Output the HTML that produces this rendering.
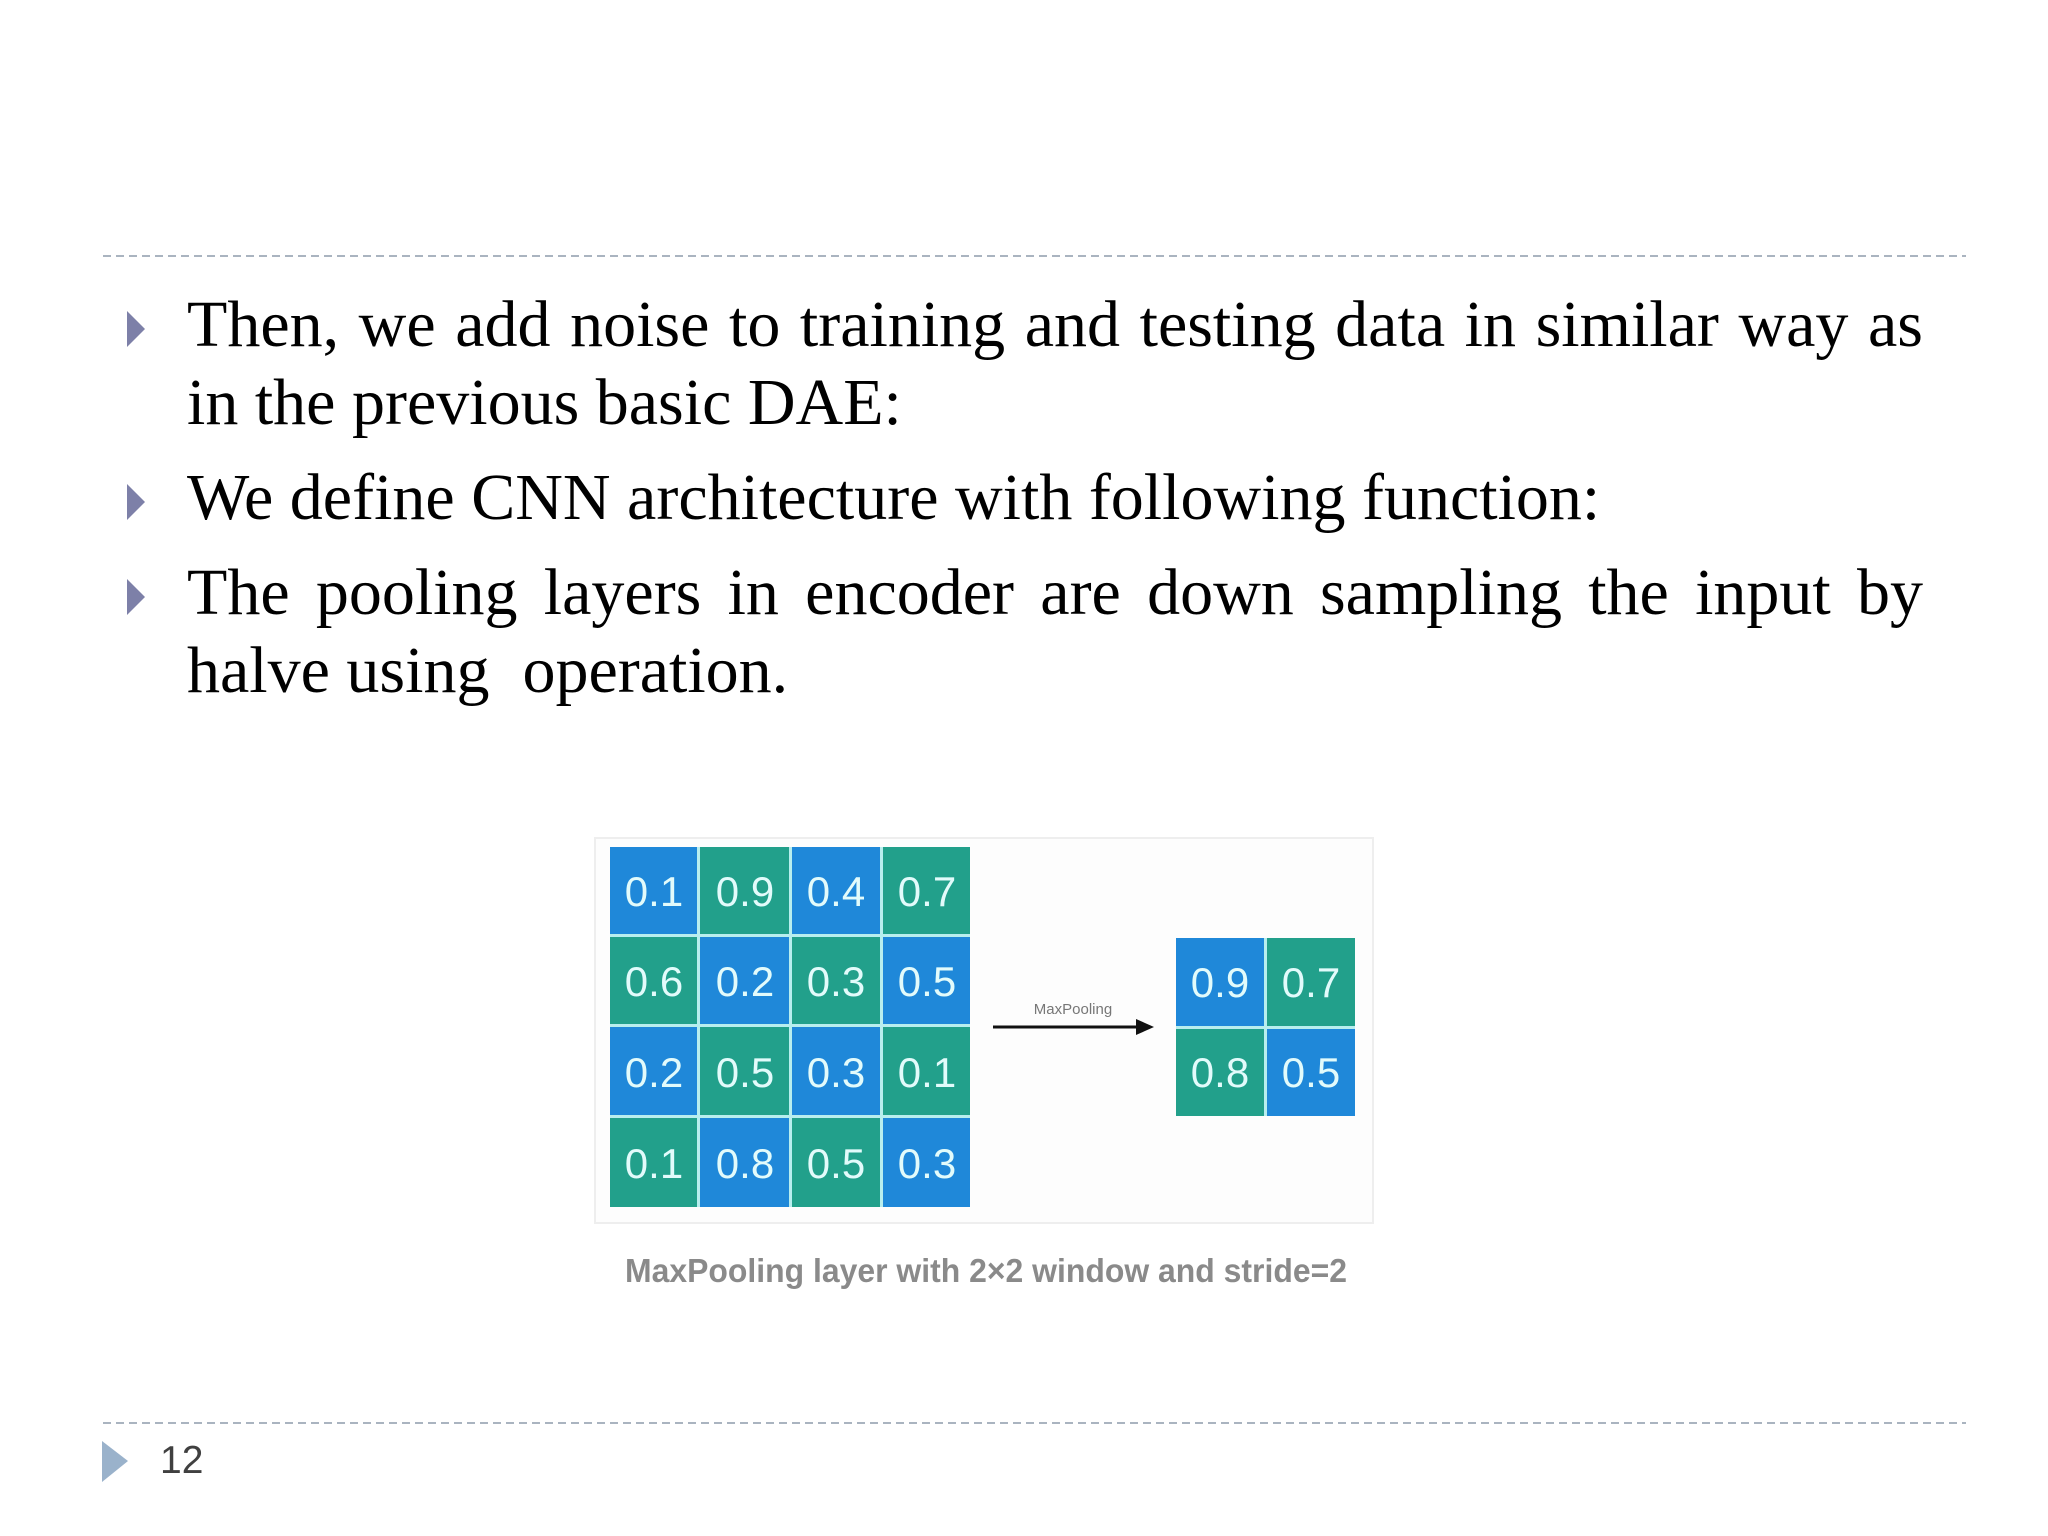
<!DOCTYPE html>
<html><head><meta charset="utf-8"><style>
body{margin:0;width:2048px;height:1536px;background:#fff;position:relative;overflow:hidden}
.t{position:absolute;font-family:"Liberation Serif",serif;font-size:66px;line-height:66px;color:#000;white-space:nowrap}
.j{text-align:justify;text-align-last:justify;white-space:normal}
</style></head><body>
<svg width="2048" height="1536" style="position:absolute;left:0;top:0">
<line x1="103" y1="256" x2="1966" y2="256" stroke="#aab4c0" stroke-width="2" stroke-dasharray="8,5"/>
<line x1="103" y1="1423" x2="1966" y2="1423" stroke="#aab4c0" stroke-width="2" stroke-dasharray="8,5"/>
<polygon points="127,311 145,329 127,347" fill="#7d80a8"/>
<polygon points="127,484 145,502 127,520" fill="#7d80a8"/>
<polygon points="127,579 145,597 127,615" fill="#7d80a8"/>
<polygon points="102,1441 128,1461 102,1482" fill="#9ab2cb"/>
<text x="160" y="1473" font-family="Liberation Sans,sans-serif" font-size="39" fill="#404040">12</text>
<rect x="595" y="838" width="778" height="385" fill="#fdfdfd" stroke="#eeeeee" stroke-width="2"/>
<g font-family="Liberation Sans,sans-serif" font-size="42" fill="#e2fbfb" text-anchor="middle">
<rect x="610" y="847" width="360" height="360" fill="#b8eeee"/>
<rect x="610" y="847" width="87" height="87" fill="#1f88d9"/><rect x="700" y="847" width="89" height="87" fill="#22a08b"/><rect x="792" y="847" width="88" height="87" fill="#1f88d9"/><rect x="883" y="847" width="87" height="87" fill="#22a08b"/>
<rect x="610" y="937" width="87" height="87" fill="#22a08b"/><rect x="700" y="937" width="89" height="87" fill="#1f88d9"/><rect x="792" y="937" width="88" height="87" fill="#22a08b"/><rect x="883" y="937" width="87" height="87" fill="#1f88d9"/>
<rect x="610" y="1027" width="87" height="88" fill="#1f88d9"/><rect x="700" y="1027" width="89" height="88" fill="#22a08b"/><rect x="792" y="1027" width="88" height="88" fill="#1f88d9"/><rect x="883" y="1027" width="87" height="88" fill="#22a08b"/>
<rect x="610" y="1118" width="87" height="89" fill="#22a08b"/><rect x="700" y="1118" width="89" height="89" fill="#1f88d9"/><rect x="792" y="1118" width="88" height="89" fill="#22a08b"/><rect x="883" y="1118" width="87" height="89" fill="#1f88d9"/>
<text x="654" y="906">0.1</text><text x="745" y="906">0.9</text><text x="836" y="906">0.4</text><text x="927" y="906">0.7</text>
<text x="654" y="996">0.6</text><text x="745" y="996">0.2</text><text x="836" y="996">0.3</text><text x="927" y="996">0.5</text>
<text x="654" y="1087">0.2</text><text x="745" y="1087">0.5</text><text x="836" y="1087">0.3</text><text x="927" y="1087">0.1</text>
<text x="654" y="1178">0.1</text><text x="745" y="1178">0.8</text><text x="836" y="1178">0.5</text><text x="927" y="1178">0.3</text>
<rect x="1176" y="938" width="179" height="178" fill="#b8eeee"/>
<rect x="1176" y="938" width="88" height="88" fill="#1f88d9"/><rect x="1267" y="938" width="88" height="88" fill="#22a08b"/>
<rect x="1176" y="1029" width="88" height="87" fill="#22a08b"/><rect x="1267" y="1029" width="88" height="87" fill="#1f88d9"/>
<text x="1220" y="997">0.9</text><text x="1311" y="997">0.7</text>
<text x="1220" y="1087">0.8</text><text x="1311" y="1087">0.5</text>
</g>
<line x1="993" y1="1027" x2="1143" y2="1027" stroke="#111" stroke-width="3"/>
<polygon points="1136,1019 1154,1027 1136,1035" fill="#111"/>
<text x="1073" y="1014" font-family="Liberation Sans,sans-serif" font-size="15" fill="#777" text-anchor="middle">MaxPooling</text>
<text x="625" y="1282" font-family="Liberation Sans,sans-serif" font-size="33" font-weight="bold" fill="#8a8a8a" textLength="722" lengthAdjust="spacingAndGlyphs">MaxPooling layer with 2×2 window and stride=2</text>
</svg>
<div class="t j" style="left:187px;top:292px;width:1736px">Then, we add noise to training and testing data in similar way as</div>
<div class="t" style="left:187px;top:370px">in the previous basic DAE:</div>
<div class="t" style="left:187px;top:465px">We define CNN architecture with following function:</div>
<div class="t j" style="left:187px;top:560px;width:1736px">The pooling layers in encoder are down sampling the input by</div>
<div class="t" style="left:187px;top:638px">halve using&nbsp; operation.</div>
</body></html>
